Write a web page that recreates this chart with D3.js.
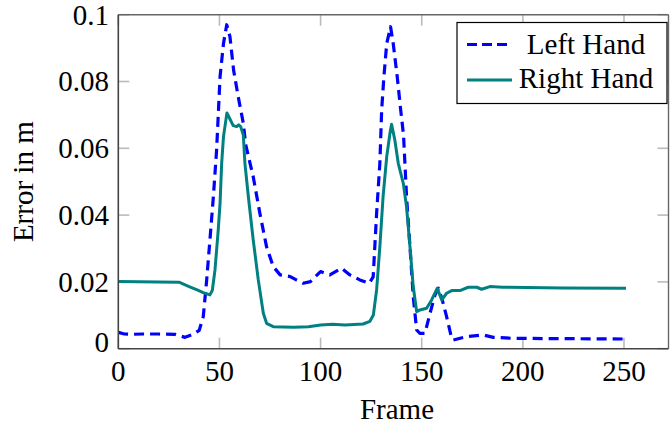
<!DOCTYPE html>
<html>
<head>
<meta charset="utf-8">
<script src="https://cdn.jsdelivr.net/npm/d3@7"></script>
<style>
  html, body { margin: 0; padding: 0; background: #fff; }
  svg { display: block; }
  text { font-family: "Liberation Serif", "Times New Roman", serif; fill: #000; }
</style>
</head>
<body>
<svg id="chart" width="670" height="425"></svg>
<script>
// Tracking error per frame for both hands
const leftFrames = [0, 3, 6, 12, 20, 28, 33, 37, 40, 42, 43.7, 45.3, 47, 48.6, 50.3, 52, 53.6, 55.2, 57, 59.3, 61.8, 63, 66.7, 70, 73.3, 76.6, 80, 85, 88, 91.4, 95, 100, 104.6, 110.4, 114.5, 119.4, 124, 126, 127.7, 129.3, 130.2, 131.3, 132.7, 134.6, 135.9, 137.9, 139.6, 141, 142.5, 144.2, 145.8, 147.5, 149.1, 151.6, 154.1, 156.5, 158.2, 160, 162.3, 164.8, 165.6, 172.2, 180.4, 185.4, 195, 250];
const leftValues = [0.0049, 0.0044, 0.0043, 0.0044, 0.0044, 0.0043, 0.0034, 0.0043, 0.0055, 0.0096, 0.0206, 0.0326, 0.0455, 0.0595, 0.0814, 0.0914, 0.097, 0.0934, 0.0834, 0.0754, 0.0675, 0.061, 0.0515, 0.0405, 0.0305, 0.0246, 0.0221, 0.0216, 0.0206, 0.0196, 0.0201, 0.0231, 0.0221, 0.0241, 0.0221, 0.0206, 0.0196, 0.0215, 0.0405, 0.0555, 0.0715, 0.0814, 0.0914, 0.0964, 0.0914, 0.0814, 0.0715, 0.064, 0.0455, 0.0305, 0.0156, 0.0056, 0.0046, 0.0046, 0.0106, 0.016, 0.0181, 0.015, 0.0096, 0.0031, 0.0026, 0.0036, 0.0041, 0.0034, 0.0031, 0.0029];

const rightFrames = [0, 30, 35, 39, 42, 45.3, 46.5, 47.8, 49.4, 50.3, 51.1, 52, 53.7, 55, 56.8, 58.5, 59.5, 60.5, 61.8, 62.6, 64.3, 66.7, 69.2, 71.7, 73.3, 76.6, 86.7, 94, 100, 106, 112, 121, 124.4, 126.1, 127.7, 129.3, 130.9, 132.7, 134.3, 135.1, 136.7, 138.4, 140.9, 142.5, 144.2, 145.8, 147.5, 149.1, 152.4, 154.9, 157.7, 159.9, 162.3, 164.8, 168.9, 173, 177.2, 179.6, 183.7, 190, 220, 251];
const rightValues = [0.0201, 0.0199, 0.0186, 0.0176, 0.0168, 0.0161, 0.0175, 0.0236, 0.0355, 0.0435, 0.0555, 0.0635, 0.0706, 0.069, 0.0668, 0.0665, 0.067, 0.0665, 0.064, 0.0555, 0.0455, 0.0326, 0.0206, 0.0106, 0.0076, 0.0066, 0.0064, 0.0066, 0.0071, 0.0073, 0.0071, 0.0074, 0.0082, 0.0101, 0.0176, 0.0305, 0.0455, 0.0575, 0.0645, 0.0672, 0.0625, 0.0555, 0.0495, 0.0425, 0.0305, 0.0186, 0.0111, 0.0116, 0.0121, 0.0146, 0.0181, 0.0146, 0.0166, 0.0174, 0.0174, 0.0184, 0.0184, 0.0178, 0.0186, 0.0184, 0.0182, 0.0181];

const seriesNames = ["Left Hand", "Right Hand"];
const xTicks = [0, 50, 100, 150, 200, 250];
const yTicks = [0, 0.02, 0.04, 0.06, 0.08, 0.1];
const yTickLabels = ["0", "0.02", "0.04", "0.06", "0.08", "0.1"];
const xLabel = "Frame";
const yLabel = "Error in m";

const svg = d3.select("#chart");
const plot = { left: 118.3, right: 668.5, top: 14.7, bottom: 348.7 };

const x = d3.scaleLinear().domain([0, 272]).range([plot.left, plot.right]);
const y = d3.scaleLinear().domain([0, 0.1]).range([plot.bottom, plot.top]);

const tickLen = 11;
const tickColor = "#bbbbbb";
const fontSize = 29;

// Inward tick marks on all four sides
const g = svg.append("g");
xTicks.forEach(t => {
  g.append("line").attr("x1", x(t)).attr("x2", x(t))
    .attr("y1", plot.bottom).attr("y2", plot.bottom - tickLen)
    .attr("stroke", tickColor).attr("stroke-width", 1.6);
  g.append("line").attr("x1", x(t)).attr("x2", x(t))
    .attr("y1", plot.top).attr("y2", plot.top + tickLen)
    .attr("stroke", tickColor).attr("stroke-width", 1.6);
});
yTicks.forEach(t => {
  g.append("line").attr("x1", plot.left).attr("x2", plot.left + tickLen)
    .attr("y1", y(t)).attr("y2", y(t))
    .attr("stroke", tickColor).attr("stroke-width", 1.6);
  g.append("line").attr("x1", plot.right).attr("x2", plot.right - tickLen)
    .attr("y1", y(t)).attr("y2", y(t))
    .attr("stroke", tickColor).attr("stroke-width", 1.6);
});

// Tick labels
xTicks.forEach(t => {
  g.append("text").attr("x", x(t)).attr("y", 381)
    .attr("text-anchor", "middle").attr("font-size", fontSize).text(t);
});
yTicks.forEach((t, i) => {
  const off = t === 0 ? -7 : 0;
  g.append("text").attr("x", 109).attr("y", y(t) + off)
    .attr("dy", "0.34em")
    .attr("text-anchor", "end").attr("font-size", fontSize).text(yTickLabels[i]);
});

// Series lines
const line = d3.line().x(d => x(d[0])).y(d => y(d[1]));
const leftData = leftFrames.map((f, i) => [f, leftValues[i]]);
const rightData = rightFrames.map((f, i) => [f, rightValues[i]]);

svg.append("path").datum(leftData).attr("d", line)
  .attr("fill", "none").attr("stroke", "#0000ff").attr("stroke-width", 3.2)
  .attr("stroke-dasharray", "10,6").attr("stroke-linejoin", "round");
svg.append("path").datum(rightData).attr("d", line)
  .attr("fill", "none").attr("stroke", "#008080").attr("stroke-width", 3)
  .attr("stroke-linejoin", "round");

// Axis frame
svg.append("line").attr("x1", plot.left).attr("x2", plot.right).attr("y1", plot.top).attr("y2", plot.top)
  .attr("stroke", "#666").attr("stroke-width", 1.4);
svg.append("line").attr("x1", plot.right).attr("x2", plot.right).attr("y1", plot.top).attr("y2", plot.bottom)
  .attr("stroke", "#666").attr("stroke-width", 1.4);
svg.append("line").attr("x1", plot.left).attr("x2", plot.left).attr("y1", plot.top).attr("y2", plot.bottom)
  .attr("stroke", "#444").attr("stroke-width", 1.6);
svg.append("line").attr("x1", plot.left).attr("x2", plot.right).attr("y1", plot.bottom).attr("y2", plot.bottom)
  .attr("stroke", "#444").attr("stroke-width", 1.6);

// Axis labels
svg.append("text").attr("x", 397).attr("y", 419)
  .attr("text-anchor", "middle").attr("font-size", fontSize).text(xLabel);
svg.append("text").attr("transform", "translate(33," + ((plot.top + plot.bottom) / 2) + ") rotate(-90)")
  .attr("text-anchor", "middle").attr("font-size", fontSize).text(yLabel);

// Legend
const leg = svg.append("g");
leg.append("rect").attr("x", 457).attr("y", 22.5).attr("width", 210).attr("height", 81)
  .attr("fill", "#fff").attr("stroke", "#000").attr("stroke-width", 1.2);
const legendRows = [
  { name: seriesNames[0], color: "#0000ff", dash: "10,5", width: 3.2, ly: 44.5, ty: 53.5 },
  { name: seriesNames[1], color: "#008080", dash: null, width: 3, ly: 80, ty: 87.5 }
];
legendRows.forEach(r => {
  const l = leg.append("line").attr("x1", 467).attr("x2", 512).attr("y1", r.ly).attr("y2", r.ly)
    .attr("stroke", r.color).attr("stroke-width", r.width);
  if (r.dash) l.attr("stroke-dasharray", r.dash);
  leg.append("text").attr("x", 586).attr("y", r.ty).attr("text-anchor", "middle")
    .attr("font-size", fontSize).text(r.name);
});
</script>
</body>
</html>
